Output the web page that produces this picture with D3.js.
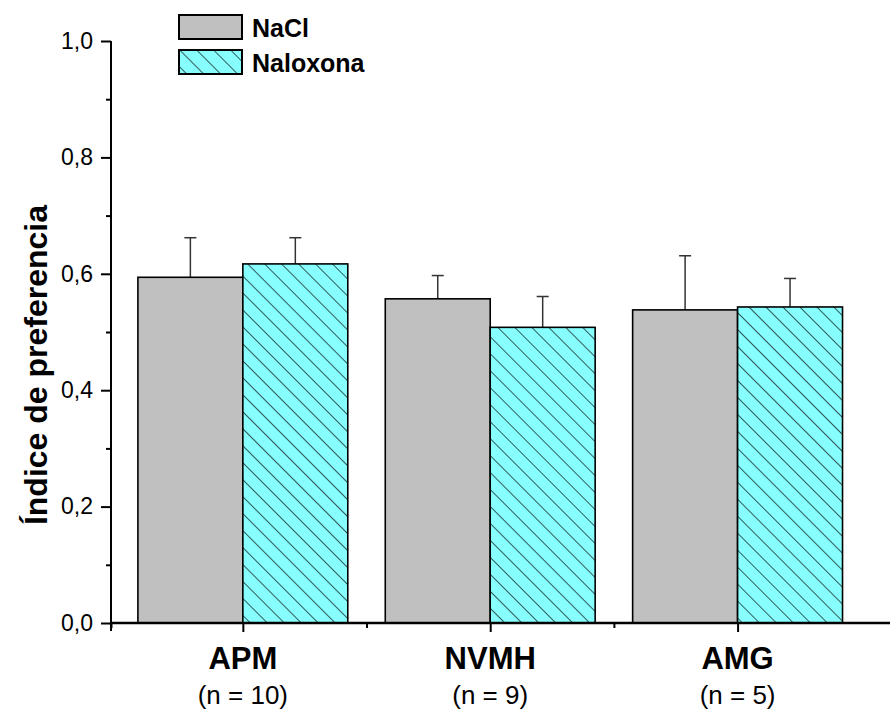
<!DOCTYPE html>
<html>
<head>
<meta charset="utf-8">
<script src="https://cdn.jsdelivr.net/npm/d3@7"></script>
<style>
  body { margin: 0; background: #fff; }
  svg { font-family: "Liberation Sans", Arial, sans-serif; }
</style>
</head>
<body>
<div id="chart"></div>
<script>
// data
var groups = ["APM", "NVMH", "AMG"];
var nLabels = ["(n = 10)", "(n = 9)", "(n = 5)"];
var seriesNames = ["NaCl", "Naloxona"];
var naclMean = [0.594, 0.557, 0.538];
var naclErr = [0.068, 0.040, 0.093];
var naloxMean = [0.617, 0.508, 0.543];
var naloxErr = [0.045, 0.053, 0.049];
var yTicks = [0, 0.2, 0.4, 0.6, 0.8, 1.0];

var svgWidth = 890, svgHeight = 714;

var svg = d3.select("#chart").append("svg")
    .attr("width", svgWidth)
    .attr("height", svgHeight);

var defs = svg.append("defs");
var pat = defs.append("pattern")
    .attr("id", "hatch")
    .attr("patternUnits", "userSpaceOnUse")
    .attr("width", 12)
    .attr("height", 12)
    .attr("patternTransform", "rotate(-45)");
pat.append("rect").attr("width", 12).attr("height", 12).attr("fill", "#88ffff");
pat.append("line")
    .attr("x1", 0).attr("y1", 0).attr("x2", 0).attr("y2", 12)
    .attr("stroke", "#000").attr("stroke-width", 1.3);

// scales
var x = d3.scaleLinear().domain([0.467, 3.6]).range([111, 886]);
var y = d3.scaleLinear().domain([0, 1]).range([623, 41]);
var halfW = 105 / 247.5;  // bar width in x units

var rows = groups.map(function(g, i) {
    return [
        { g: i + 1, s: 0, mean: naclMean[i], err: naclErr[i] },
        { g: i + 1, s: 1, mean: naloxMean[i], err: naloxErr[i] }
    ];
}).flat();

var fills = ["#c0c0c0", "url(#hatch)"];

// error bars (upper only)
var eb = svg.append("g").selectAll("g").data(rows).enter().append("g");
eb.append("line")
    .attr("x1", d => x(d.g + (d.s === 0 ? -halfW / 2 : halfW / 2)))
    .attr("x2", d => x(d.g + (d.s === 0 ? -halfW / 2 : halfW / 2)))
    .attr("y1", d => y(d.mean))
    .attr("y2", d => y(d.mean + d.err))
    .attr("stroke", "#333").attr("stroke-width", 1.5);
eb.append("line")
    .attr("x1", d => x(d.g + (d.s === 0 ? -halfW / 2 : halfW / 2)) - 6)
    .attr("x2", d => x(d.g + (d.s === 0 ? -halfW / 2 : halfW / 2)) + 6)
    .attr("y1", d => y(d.mean + d.err))
    .attr("y2", d => y(d.mean + d.err))
    .attr("stroke", "#333").attr("stroke-width", 1.5);

// bars
svg.append("g").selectAll("rect").data(rows).enter().append("rect")
    .attr("x", d => x(d.g + (d.s === 0 ? -halfW : 0)))
    .attr("y", d => y(d.mean))
    .attr("width", d => x(d.g + halfW) - x(d.g))
    .attr("height", d => y(0) - y(d.mean))
    .attr("fill", d => fills[d.s])
    .attr("stroke", "#000")
    .attr("stroke-width", 1.6);

// y axis
var yAxis = d3.axisLeft(y).tickValues(yTicks).tickSize(10).tickPadding(8)
    .tickFormat(d => d3.format(".1f")(d).replace(".", ","));
var gy = svg.append("g").attr("transform", "translate(111,0)").call(yAxis);
gy.select(".domain").attr("d", "M0," + (y(0) + 8) + "V" + y(1)).attr("stroke-width", 2);
gy.selectAll(".tick line").attr("stroke-width", 2);
gy.selectAll(".tick text").attr("font-size", 23).attr("font-family", "Liberation Sans, Arial, sans-serif").attr("fill", "#000");
var yMinor = d3.axisLeft(y).tickValues([0.1, 0.3, 0.5, 0.7, 0.9]).tickSize(5).tickFormat("");
var gym = svg.append("g").attr("transform", "translate(111,0)").call(yMinor);
gym.select(".domain").remove();
gym.selectAll(".tick line").attr("stroke-width", 2);

// x axis
var xAxis = d3.axisBottom(x).tickValues([1, 2, 3]).tickSize(9).tickFormat("");
var gx = svg.append("g").attr("transform", "translate(0," + y(0) + ")").call(xAxis);
gx.select(".domain").attr("d", "M111,0H890").attr("stroke-width", 2.5);
gx.selectAll(".tick line").attr("stroke-width", 2);
var xMinor = d3.axisBottom(x).tickValues([0.467, 1.5, 2.5]).tickSize(5).tickFormat("");
var gxm = svg.append("g").attr("transform", "translate(0," + y(0) + ")").call(xMinor);
gxm.select(".domain").remove();
gxm.selectAll(".tick line").attr("stroke-width", 2);

// group labels
svg.append("g").selectAll("text").data(groups).enter().append("text")
    .attr("x", (d, i) => x(i + 1))
    .attr("y", 669)
    .attr("text-anchor", "middle")
    .attr("font-size", 31)
    .attr("font-weight", "bold")
    .text(d => d);
svg.append("g").selectAll("text").data(nLabels).enter().append("text")
    .attr("x", (d, i) => x(i + 1))
    .attr("y", 704)
    .attr("text-anchor", "middle")
    .attr("font-size", 26)
    .text(d => d);

// y axis title
svg.append("text")
    .attr("transform", "translate(47," + 365 + ") rotate(-90)")
    .attr("text-anchor", "middle")
    .attr("font-size", 32)
    .attr("font-weight", "bold")
    .text("Índice de preferencia");

// legend
var legend = svg.append("g").selectAll("g").data(seriesNames).enter().append("g")
    .attr("transform", (d, i) => "translate(179," + (15 + i * 35) + ")");
legend.append("rect")
    .attr("width", 63).attr("height", 24)
    .attr("fill", (d, i) => fills[i])
    .attr("stroke", "#000").attr("stroke-width", 2);
legend.append("text")
    .attr("x", 73).attr("y", 22)
    .attr("font-size", 25)
    .attr("font-weight", "bold")
    .text(d => d);
</script>
</body>
</html>
